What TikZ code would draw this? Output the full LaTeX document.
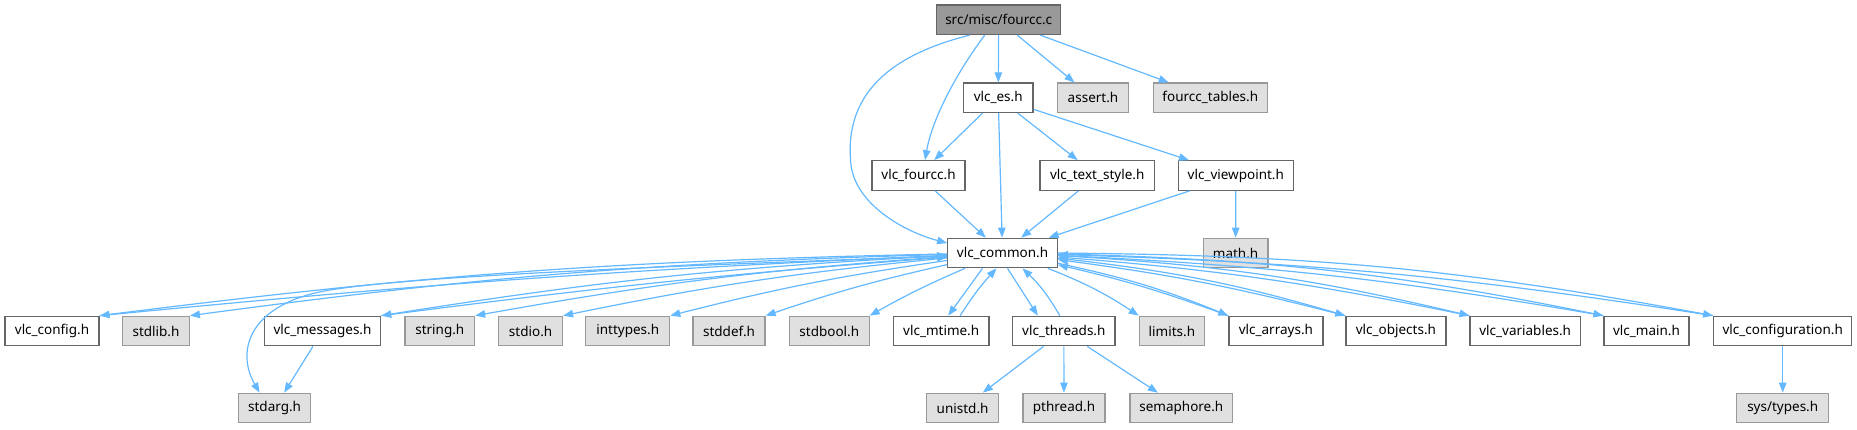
\documentclass[tikz,border=0pt]{standalone}
\usepackage{fontspec}
\setmainfont{Noto Sans}
\usetikzlibrary{arrows.meta}
\definecolor{edgeblue}{HTML}{63B8FF}
\definecolor{boxline}{HTML}{666666}
\definecolor{extline}{HTML}{999999}
\definecolor{extfill}{HTML}{E0E0E0}
\definecolor{rootfill}{HTML}{999999}
\begin{document}
\begin{tikzpicture}[x=1pt, y=-1pt,
    hdr/.style={draw=boxline, fill=white, line width=1.2pt, minimum height=29.5pt, inner sep=0pt, font=\fontsize{13.5}{16}\selectfont},
    ext/.style={hdr, draw=extline, fill=extfill},
    dep/.style={draw=edgeblue, line width=1.2pt, -{Triangle[length=10pt,width=7.5pt]}}]
  \useasboundingbox (0,0) rectangle (1857,429);
  % Source file and first level
  \node[hdr, fill=rootfill, minimum width=124pt] (root) at (998.7,19.8) {src/misc/fourcc.c};
  \node[hdr, minimum width=69.7pt] (es) at (998.2,97.8) {vlc\_es.h};
  \node[ext, minimum width=71.4pt] (assert) at (1093,97.8) {assert.h};
  \node[ext, minimum width=114pt] (tables) at (1210.3,97.8) {fourcc\_tables.h};
  \node[hdr, minimum width=93pt] (fourcc) at (918.5,175.5) {vlc\_fourcc.h};
  \node[hdr, minimum width=114.3pt] (textstyle) at (1097.2,175.5) {vlc\_text\_style.h};
  \node[hdr, minimum width=115pt] (viewpoint) at (1235.8,175.5) {vlc\_viewpoint.h};
  \node[hdr, minimum width=109.6pt] (common) at (1002.5,253) {vlc\_common.h};
  \node[ext, minimum width=64.6pt] (math) at (1235.6,253) {math.h};
  % Headers pulled in by vlc_common.h
  \node[hdr, minimum width=94pt] (config) at (52,331) {vlc\_config.h};
  \node[ext, minimum width=66.6pt] (stdlib) at (156,331) {stdlib.h};
  \node[hdr, minimum width=116.4pt] (messages) at (322.5,331) {vlc\_messages.h};
  \node[ext, minimum width=69.6pt] (string) at (439.8,331) {string.h};
  \node[ext, minimum width=63.8pt] (stdio) at (530.6,331) {stdio.h};
  \node[ext, minimum width=84pt] (inttypes) at (627.7,331) {inttypes.h};
  \node[ext, minimum width=72pt] (stddef) at (729,331) {stddef.h};
  \node[ext, minimum width=79.6pt] (stdbool) at (829.3,331) {stdbool.h};
  \node[hdr, minimum width=95.7pt] (mtime) at (941.2,331) {vlc\_mtime.h};
  \node[hdr, minimum width=102.3pt] (threads) at (1063.8,331) {vlc\_threads.h};
  \node[ext, minimum width=65.2pt] (limits) at (1171.9,331) {limits.h};
  \node[hdr, minimum width=94pt] (arrays) at (1275.9,331) {vlc\_arrays.h};
  \node[hdr, minimum width=100pt] (objects) at (1395.9,331) {vlc\_objects.h};
  \node[hdr, minimum width=110.3pt] (variables) at (1525.2,331) {vlc\_variables.h};
  \node[hdr, minimum width=85pt] (vlcmain) at (1646.5,331) {vlc\_main.h};
  \node[hdr, minimum width=138pt] (configuration) at (1782.7,331) {vlc\_configuration.h};
  % Bottom row
  \node[ext, minimum width=72.5pt] (stdarg) at (274.6,408) {stdarg.h};
  \node[ext, minimum width=71.7pt] (unistd) at (962.6,408) {unistd.h};
  \node[ext, minimum width=82pt] (pthread) at (1064,408) {pthread.h};
  \node[ext, minimum width=102.8pt] (semaphore) at (1181.3,408) {semaphore.h};
  \node[ext, minimum width=91.8pt] (systypes) at (1782.7,408) {sys/types.h};

  % Upper edges
  \draw[dep] (root) -- (es);
  \draw[dep] (root) -- (assert);
  \draw[dep] (root) -- (tables);
  \draw[dep] ([xshift=-14pt]root.south) .. controls (955,75) and (932,120) .. ([xshift=6.5pt]fourcc.north);
  \draw[dep] ([xshift=-29pt]root.south) .. controls (870,60) and (845,110) .. (851,165) .. controls (856,205) and (905,232) .. ([yshift=10pt]common.west);
  \draw[dep] (es) -- (fourcc);
  \draw[dep] (es) -- (common);
  \draw[dep] (es) -- (textstyle);
  \draw[dep] (es) -- (viewpoint);
  \draw[dep] (fourcc) -- (common);
  \draw[dep] (textstyle) -- (common);
  \draw[dep] (viewpoint) -- (common);
  \draw[dep] (viewpoint) -- (math);

  % vlc_common.h to the left
  \draw[dep] (common) to[bend right=3] (config.north east);
  \draw[dep] (config.north east) to[bend left=1.5] (common);
  \draw[dep] (common) to[bend right=3] (stdlib.north east);
  \draw[dep] ([yshift=-3pt]common.west) .. controls (700,265) and (420,275) .. (330,290) .. controls (250,303) and (235,350) .. ([xshift=-15pt]stdarg.north);
  \draw[dep] (common) to[bend right=3] (messages.north east);
  \draw[dep] (messages.north east) to[bend left=1.5] (common);
  \draw[dep] (common) to[bend right=3] (string.north east);
  \draw[dep] (common) to[bend right=3] (stdio.north east);
  \draw[dep] (common) to[bend right=3] (inttypes.north east);
  \draw[dep] (common) to[bend right=3] (stddef.north east);
  \draw[dep] (common) to[bend right=3] (stdbool.north east);
  \draw[dep] (messages) -- (stdarg);

  % vlc_common.h downwards
  \draw[dep] ([xshift=-20pt]common.south) -- ([xshift=7pt]mtime.north);
  \draw[dep] ([xshift=19pt]mtime.north) to[bend left=5] ([xshift=-6pt]common.south);
  \draw[dep] ([xshift=5pt]common.south) -- ([xshift=-26pt]threads.north);
  \draw[dep] ([xshift=-4pt]threads.north) to[bend right=8] ([xshift=20pt]common.south);
  \draw[dep] (common) to[bend left=6] (limits.north west);
  \draw[dep] (threads) -- (unistd);
  \draw[dep] (threads) -- (pthread);
  \draw[dep] (threads) -- (semaphore);

  % vlc_common.h to the right
  \draw[dep] (common) to[bend left=5] (arrays.north west);
  \draw[dep] (arrays.north west) to[bend right=3.5] (common);
  \draw[dep] (common) to[bend left=5] (objects.north west);
  \draw[dep] (objects.north west) to[bend right=3.5] (common);
  \draw[dep] (common) to[bend left=5] (variables.north west);
  \draw[dep] (variables.north west) to[bend right=3.5] (common);
  \draw[dep] (common) to[bend left=5] (vlcmain.north west);
  \draw[dep] (vlcmain.north west) to[bend right=3.5] (common);
  \draw[dep] (common) to[bend left=5] (configuration.north west);
  \draw[dep] (configuration.north west) to[bend right=3.5] (common);
  \draw[dep] (configuration) -- (systypes);
\end{tikzpicture}
\end{document}
